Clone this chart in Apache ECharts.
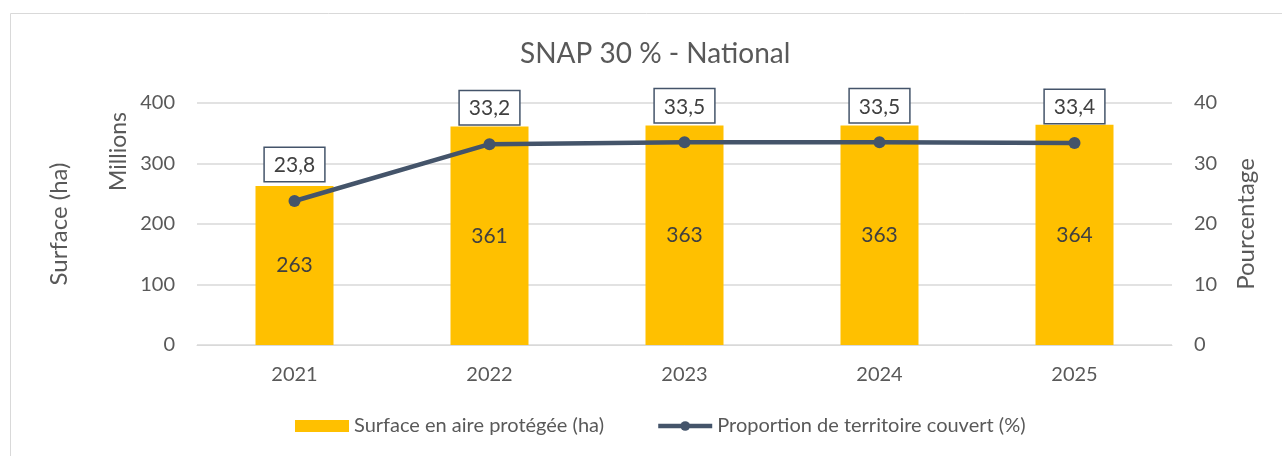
<!DOCTYPE html>
<html>
<head>
<meta charset="utf-8">
<script src="https://cdn.jsdelivr.net/npm/echarts@6/dist/echarts.min.js"></script>
<style>
  html, body { margin: 0; padding: 0; background: #fff; }
  #chart { width: 1282px; height: 456px; }
</style>
</head>
<body>
<div id="chart"></div>
<script>
// --- données ---
const years = ["2021", "2022", "2023", "2024", "2025"];
const surfaceMillions = [263, 361, 363, 363, 364];
const proportion = [23.8, 33.2, 33.5, 33.5, 33.4];

const FONT = "Lato";
const TXT = "#595959";
const LINE_COLOR = "#44546a";

const chart = echarts.init(document.getElementById("chart"));
chart.setOption({
  animation: false,
  textStyle: { fontFamily: FONT },
  title: {
    text: "SNAP 30 % - National",
    left: 515,
    top: 35,
    textStyle: { fontFamily: FONT, fontSize: 28, fontWeight: "normal", color: TXT }
  },
  graphic: [
    {
      type: "rect",
      left: 8, top: 11,
      shape: { width: 1300, height: 470 },
      style: { fill: "none", stroke: "#d9d9d9", lineWidth: 1 },
      silent: true
    },
    {
      type: "text",
      left: 107, top: 112,
      rotation: Math.PI / 2,
      style: { text: "Millions", fontFamily: FONT, fontSize: 23, fill: TXT }
    }
  ],
  legend: {
    bottom: 15,
    left: 290,
    itemGap: 52,
    itemWidth: 54,
    itemHeight: 12,
    textStyle: { fontFamily: FONT, fontSize: 20, color: TXT },
    data: [
      { name: "Surface en aire protégée (ha)", icon: "rect" },
      { name: "Proportion de territoire couvert (%)", lineStyle: { width: 4.5, color: LINE_COLOR } }
    ]
  },
  grid: { left: 197, right: 110, top: 103, bottom: 111 },
  xAxis: {
    type: "category",
    data: years,
    axisLine: { lineStyle: { color: "#d9d9d9" } },
    axisTick: { show: false },
    axisLabel: { fontSize: 20, color: TXT, margin: 20 }
  },
  yAxis: [
    {
      type: "value",
      min: 0, max: 400, interval: 100,
      name: "Surface (ha)",
      nameLocation: "middle",
      nameGap: 126,
      nameTextStyle: { fontSize: 24, color: TXT },
      axisLine: { show: false },
      axisTick: { show: false },
      axisLabel: { fontSize: 20, color: TXT, margin: 22 },
      splitLine: { lineStyle: { color: "#d9d9d9", width: 1.5 } }
    },
    {
      type: "value",
      min: 0, max: 40, interval: 10,
      name: "Pourcentage",
      nameLocation: "middle",
      nameGap: 62,
      nameRotate: 90,
      nameTextStyle: { fontSize: 24, color: TXT },
      axisLine: { show: false },
      axisTick: { show: false },
      axisLabel: { fontSize: 20, color: TXT, margin: 22 },
      splitLine: { show: false }
    }
  ],
  series: [
    {
      name: "Surface en aire protégée (ha)",
      type: "bar",
      data: surfaceMillions,
      barWidth: "40%",
      itemStyle: { color: "#ffc000" },
      label: {
        show: true,
        position: "inside",
        fontSize: 21,
        color: "#404040"
      }
    },
    {
      name: "Proportion de territoire couvert (%)",
      type: "line",
      yAxisIndex: 1,
      data: proportion,
      symbol: "circle",
      symbolSize: 12,
      lineStyle: { color: LINE_COLOR, width: 4.5 },
      itemStyle: { color: LINE_COLOR },
      label: {
        show: true,
        position: "top",
        distance: 14,
        fontSize: 21,
        color: "#404040",
        backgroundColor: "#fff",
        borderColor: LINE_COLOR,
        borderWidth: 1.5,
        padding: [7, 9, 5, 9],
        formatter: function (p) {
          return p.value.toFixed(1).replace(".", ",");
        }
      }
    }
  ]
});
</script>
</body>
</html>
